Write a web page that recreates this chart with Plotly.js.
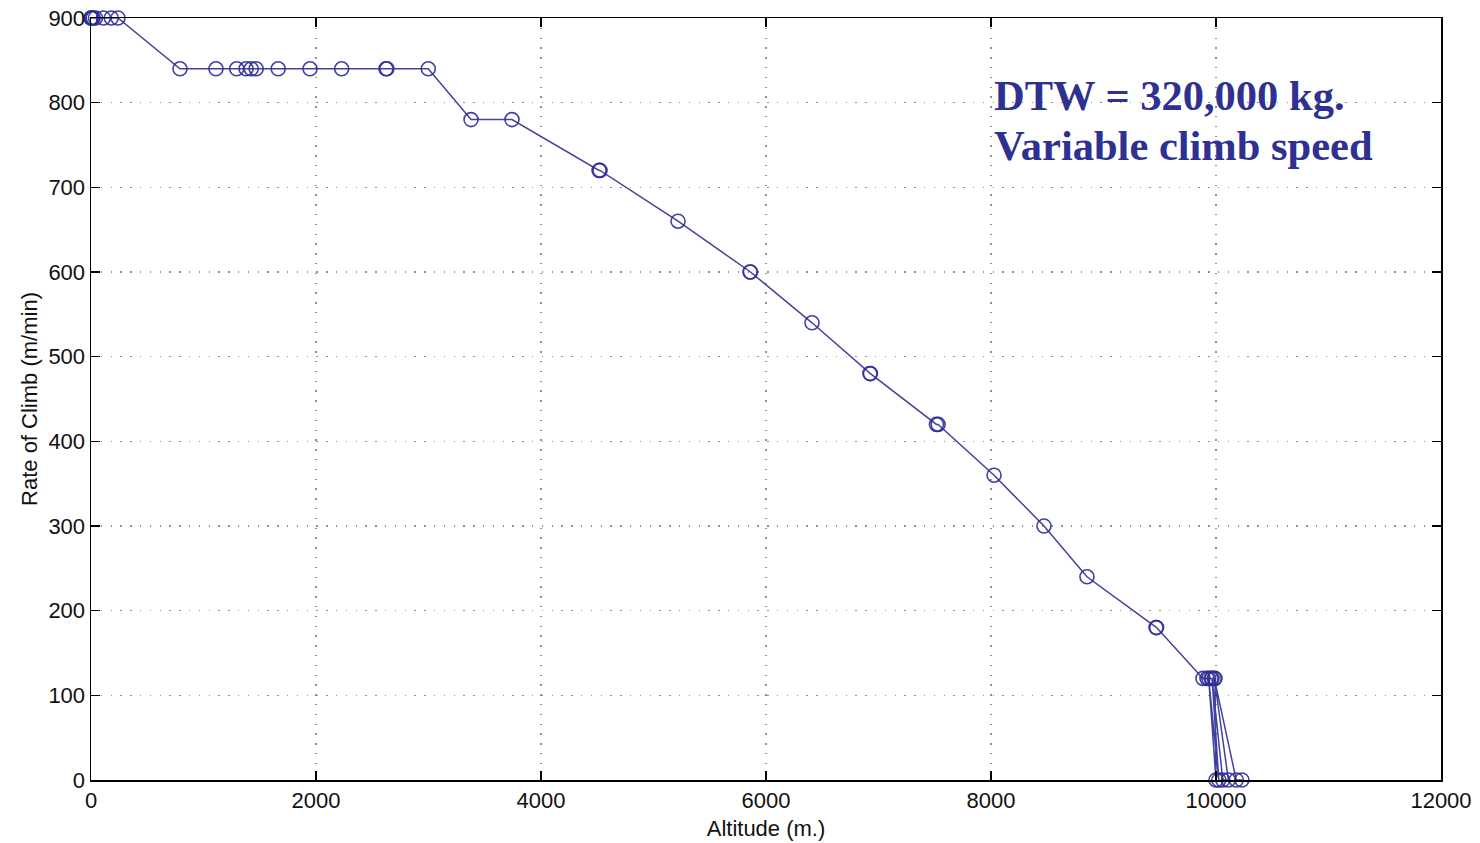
<!DOCTYPE html>
<html>
<head>
<meta charset="utf-8">
<script src="https://cdn.plot.ly/plotly-3.0.1.min.js"></script>
<style>
  html, body { margin: 0; padding: 0; background: #fff; }
  #chart { width: 1480px; height: 843px; }
</style>
</head>
<body>
<div id="chart"></div>
<script>
// Altitude (m.) of each sample
const altitude = [
  0, 0, 10, 20, 40, 110, 180, 240,
  791, 1111, 1295, 1378, 1424, 1468, 1664, 1947, 2228, 2622, 2630, 2998,
  3378, 3742,
  4516, 4525,
  5218,
  5858, 5862,
  6409,
  6924, 6928,
  7515, 7530,
  8027,
  8471,
  8853,
  9467, 9472,
  9884, 9920, 9956, 9991,
  10000, 9935, 10025, 9965, 10060, 10110, 9985, 10180, 10230
];
// Rate of climb (m/min) of each sample
const rateOfClimb = [
  900, 900, 900, 900, 900, 900, 900, 900,
  840, 840, 840, 840, 840, 840, 840, 840, 840, 840, 840, 840,
  780, 780,
  720, 720,
  660,
  600, 600,
  540,
  480, 480,
  420, 420,
  360,
  300,
  240,
  180, 180,
  120, 120, 120, 120,
  0, 120, 0, 120, 0, 0, 120, 0, 0
];
const xTicks = [0, 2000, 4000, 6000, 8000, 10000, 12000];
const yTicks = [0, 100, 200, 300, 400, 500, 600, 700, 800, 900];
const noteLines = ["DTW = 320,000 kg.", "Variable climb speed"];
const noteY = [808, 749];

const lineColor = "rgba(45,45,150,0.9)";
const labelFont = { family: "Liberation Sans, Arial, sans-serif", size: 22, color: "#111" };

const trace = {
  x: altitude,
  y: rateOfClimb,
  type: "scatter",
  mode: "lines+markers",
  line: { color: lineColor, width: 1.5 },
  marker: { symbol: "circle-open", size: 14, color: lineColor, line: { width: 1.6, color: lineColor } },
  cliponaxis: false,
  hoverinfo: "x+y"
};

const axisCommon = {
  showline: true,
  linecolor: "#000",
  linewidth: 1.5,
  mirror: "ticks",
  ticks: "inside",
  ticklen: 9,
  tickwidth: 1.5,
  tickcolor: "#000",
  showgrid: true,
  gridcolor: "#909090",
  gridwidth: 1.3,
  griddash: "1.3px,8.5px",
  zeroline: false,
  tickfont: labelFont
};

const layout = {
  width: 1480,
  height: 843,
  margin: { l: 91, r: 39, t: 18, b: 63 },
  paper_bgcolor: "#fff",
  plot_bgcolor: "#fff",
  showlegend: false,
  xaxis: Object.assign({}, axisCommon, {
    range: [0, 12000],
    tickvals: xTicks,
    ticktext: xTicks.map(String),
    title: { text: "Altitude (m.)", font: labelFont, standoff: 8 }
  }),
  yaxis: Object.assign({}, axisCommon, {
    range: [0, 900],
    tickvals: yTicks,
    ticktext: yTicks.map(String),
    title: { text: "Rate of Climb (m/min)", font: labelFont, standoff: 4 }
  }),
  annotations: noteLines.map((t, i) => ({
    xref: "x", yref: "y",
    x: 8010, y: noteY[i],
    xanchor: "left", yanchor: "middle",
    align: "left",
    showarrow: false,
    text: "<b>" + t + "</b>",
    font: { family: "Liberation Serif, Times New Roman, serif", size: 42.5, color: "#2e3192" }
  }))
};

Plotly.newPlot("chart", [trace], layout, { displayModeBar: false, staticPlot: true });
</script>
</body>
</html>
